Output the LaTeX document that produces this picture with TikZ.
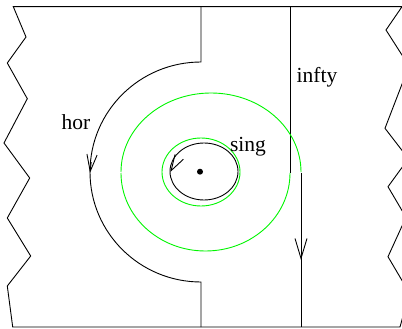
\documentclass[tikz,border=0pt]{standalone}
\usepackage{fontspec}
\setmainfont{Liberation Serif}
\usetikzlibrary{arrows.meta}
\begin{document}
\begin{tikzpicture}[x=1pt,y=-1pt,
  line/.style={line width=0.9pt, black, line join=miter},
  gline/.style={line width=0.9pt, color={rgb,255:red,0;green,245;blue,0}},
  barb/.style={line width=0.9pt, -{Straight Barb[length=#1pt, width=0.6*#1pt]}},
  lab/.style={inner sep=0pt, font=\fontsize{21.5}{24}\selectfont}]
\useasboundingbox (0,0) rectangle (402,329);
\begin{scope}
\clip (0,0) rectangle (402,329);
% frame with zigzag edges
\draw[line] (13.3,6.7) -- (402,6.7) -- (386,30) -- (409,66) -- (385,128.3) -- (408.4,158.7)
  -- (388,186.7) -- (406,217.3) -- (388,256.7) -- (409.4,293) -- (400,327)
  -- (12.7,327) -- (7.3,286) -- (30.7,256) -- (7.3,218) -- (29.7,178) -- (4,143)
  -- (27.3,98.7) -- (7.3,63) -- (26,37) -- cycle;
\end{scope}
% named points
\coordinate (htop) at (201,6.7);
\coordinate (harcA) at (201,62);
\coordinate (harcB) at (201,282);
\coordinate (hbot) at (201,327);
\coordinate (itop) at (290,6.7);
\coordinate (iend) at (290,172.7);
\coordinate (istart) at (301,172.7);
\coordinate (ibot) at (301,327);
% hor contour
\draw[line] (htop) -- (harcA) arc[start angle=90, end angle=270, x radius=111pt, y radius=110pt] -- (hbot);
\draw[barb=17] (91.2,162) -- (90,173);
% infty line
\draw[line] (itop) -- (iend);
\draw[line] (istart) -- (ibot);
\draw[barb=20] (301,255) -- (301,260);
% green contours
\draw[gline] (121,172) arc[start angle=180, end angle=0, x radius=90pt, y radius=79pt];
\draw[gline] (290,173) arc[start angle=0, end angle=-180, x radius=84.5pt, y radius=78pt];
\draw[gline] (201,172) ellipse[x radius=39pt, y radius=34pt];
% sing circle
\draw[line] (204,171.5) ellipse[x radius=34pt, y radius=28.5pt];
\draw[barb=16] (171.3,170.3) -- (170.3,172);
\fill (200,171.7) circle[radius=3pt];
% labels
\node[lab] (hor) at (76,122.5) {hor};
\node[lab] (sing) at (248,146.5) {sing};
\node[lab] (infty) at (317,77.5) {infty};
\end{tikzpicture}
\end{document}
